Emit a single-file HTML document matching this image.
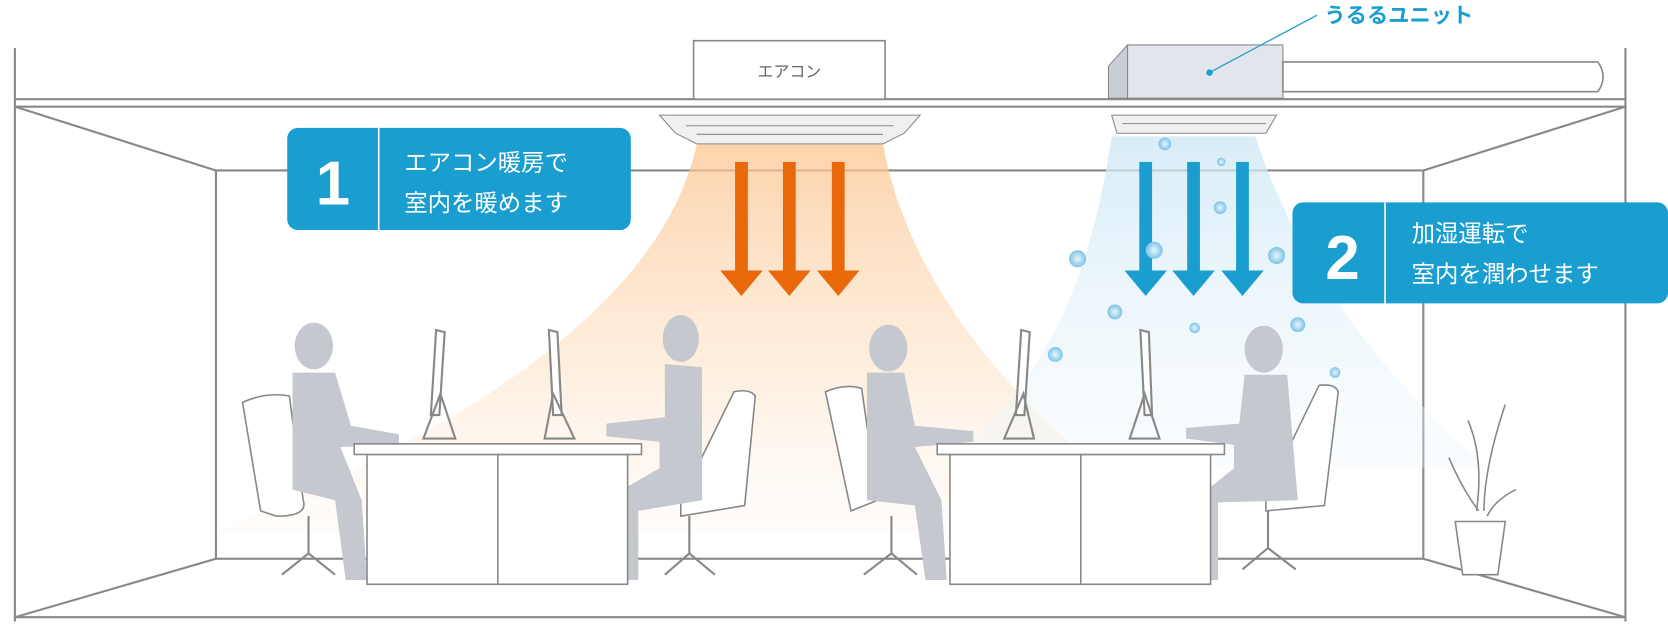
<!DOCTYPE html>
<html><head><meta charset="utf-8"><style>
html,body{margin:0;padding:0;background:#fff;width:1668px;height:626px;overflow:hidden}
svg{display:block}
text{font-family:"Liberation Sans","Noto Sans CJK JP",sans-serif}
</style></head><body>
<svg width="1668" height="626" viewBox="0 0 1568 588" xmlns="http://www.w3.org/2000/svg">
<defs>
<linearGradient id="warm" x1="0" y1="0" x2="0" y2="1">
<stop offset="0" stop-color="#fbc58f" stop-opacity="0.75"/>
<stop offset="0.6" stop-color="#fde0c2" stop-opacity="0.5"/>
<stop offset="1" stop-color="#fff2e6" stop-opacity="0.2"/>
</linearGradient>
<linearGradient id="cool" x1="0" y1="0" x2="0" y2="1">
<stop offset="0" stop-color="#cfe8f5" stop-opacity="0.8"/>
<stop offset="1" stop-color="#eef7fc" stop-opacity="0.3"/>
</linearGradient>
<radialGradient id="drop"><stop offset="0" stop-color="#e9f6fc"/><stop offset="1" stop-color="#7cc3e6"/></radialGradient>
</defs>
<g stroke="#888" stroke-width="2" fill="none">
<line x1="14" y1="45" x2="14" y2="584"/>
<line x1="1528" y1="45" x2="1528" y2="584"/>
<line x1="14" y1="93" x2="1528" y2="93"/>
<line x1="14" y1="100" x2="1528" y2="100"/>
<line x1="14" y1="580" x2="1528" y2="580"/>
<rect x="203" y="160" width="1135" height="365"/>
<line x1="14" y1="100" x2="203" y2="160"/>
<line x1="1528" y1="100" x2="1338" y2="160"/>
<line x1="14" y1="580" x2="203" y2="525"/>
<line x1="1528" y1="580" x2="1338" y2="525"/>
</g>
<path d="M655 135 L830 135 C860 300 1000 420 1110 500 L200 500 C400 420 620 300 655 135Z" fill="url(#warm)"/>
<path d="M1045 128 L1180 128 C1230 280 1330 380 1400 440 L880 440 C960 380 1020 300 1045 128Z" fill="url(#cool)"/>
<rect x="652" y="38" width="180" height="55" fill="#fff" stroke="#888" stroke-width="1.5"/>
<text x="742" y="72" font-size="15" fill="#666" text-anchor="middle">エアコン</text>
<path d="M1042 92 L1042 62 L1060 42 L1060 92Z" fill="#c9ced6" stroke="#888"/>
<rect x="1060" y="42" width="146" height="50" fill="#e2e6ec" stroke="#888"/>
<path d="M1206 58 L1502 58 Q1512 72 1502 86 L1206 86Z" fill="#fff" stroke="#888" stroke-width="1.5"/>
<line x1="1137" y1="68" x2="1238" y2="14" stroke="#1a9ed0" stroke-width="1.2"/>
<circle cx="1137" cy="68" r="3" fill="#1a9ed0"/>
<text x="1245" y="21" font-size="20" font-weight="bold" fill="#1a9ed0">うるるユニット</text>
<path d="M620 108 L865 108 L850 125 L830 135 L655 135 L635 125Z" fill="#eef0f2" stroke="#888"/>
<line x1="645" y1="118" x2="840" y2="118" stroke="#888"/>
<line x1="655" y1="126" x2="830" y2="126" stroke="#888"/>
<path d="M1045 108 L1200 108 L1190 125 L1050 125Z" fill="#eef0f2" stroke="#888"/>
<line x1="1055" y1="116" x2="1190" y2="116" stroke="#888"/>
<g fill="#e8680a">
<rect x="691" y="152" width="12" height="104"/><path d="M677 254 L717 254 L697 278Z"/>
<rect x="736" y="152" width="12" height="104"/><path d="M722 254 L762 254 L742 278Z"/>
<rect x="782" y="152" width="12" height="104"/><path d="M768 254 L808 254 L788 278Z"/>
</g>
<g fill="#1a9ed0">
<rect x="1071" y="152" width="12" height="104"/><path d="M1057 254 L1097 254 L1077 278Z"/>
<rect x="1116" y="152" width="12" height="104"/><path d="M1102 254 L1142 254 L1122 278Z"/>
<rect x="1162" y="152" width="12" height="104"/><path d="M1148 254 L1188 254 L1168 278Z"/>
</g>
<g fill="url(#drop)">
<circle cx="1095" cy="135" r="6"/><circle cx="1148" cy="152" r="4"/><circle cx="1147" cy="195" r="6"/>
<circle cx="1085" cy="235" r="8"/><circle cx="1013" cy="243" r="8"/><circle cx="1200" cy="240" r="8"/>
<circle cx="1048" cy="293" r="7"/><circle cx="1123" cy="308" r="5"/><circle cx="1220" cy="305" r="7"/>
<circle cx="992" cy="333" r="7"/><circle cx="1255" cy="350" r="5"/>
</g>
<rect x="270" y="120" width="323" height="96" rx="10" fill="#1a9ed0"/>
<line x1="356" y1="120" x2="356" y2="216" stroke="#fff" stroke-width="1.5"/>
<text x="313" y="192" font-size="58" font-weight="bold" fill="#fff" text-anchor="middle">1</text>
<text x="380" y="160" font-size="22" fill="#fff">エアコン暖房で</text>
<text x="380" y="198" font-size="22" fill="#fff">室内を暖めます</text>
<rect x="1215" y="190" width="353" height="95" rx="10" fill="#1a9ed0"/>
<line x1="1302" y1="190" x2="1302" y2="285" stroke="#fff" stroke-width="1.5"/>
<text x="1262" y="262" font-size="58" font-weight="bold" fill="#fff" text-anchor="middle">2</text>
<text x="1327" y="227" font-size="22" fill="#fff">加湿運転で</text>
<text x="1327" y="265" font-size="22" fill="#fff">室内を潤わせます</text>
<g fill="#fff" stroke="#888" stroke-width="1.5">
<path d="M228 378 Q250 368 272 372 L285 470 Q290 485 260 485 L245 480 Z"/>
<path d="M690 368 Q705 365 710 372 L700 475 L640 485 L640 470Z"/>
<path d="M776 368 Q795 360 810 365 L825 470 L800 480 Z"/>
<path d="M1240 362 Q1255 360 1258 368 L1245 475 L1190 480 L1190 465Z"/>
</g>
<g stroke="#888" stroke-width="2" fill="none">
<path d="M290 485 L290 520 M265 540 L290 520 L315 540"/>
<path d="M648 485 L648 520 M625 540 L648 520 L672 540"/>
<path d="M838 485 L838 520 M812 540 L838 520 L862 540"/>
<path d="M1192 480 L1192 515 M1168 535 L1192 515 L1218 535"/>
</g>
<g fill="#c5c8cf">
<ellipse cx="295" cy="325" rx="18" ry="22"/><path d="M275 350 L315 350 L330 400 L375 408 L375 418 L320 420 L340 470 L345 545 L325 545 L315 470 L275 460 Z"/>
<ellipse cx="640" cy="318" rx="17" ry="22"/><path d="M625 342 L660 345 L660 470 L600 480 L600 545 L585 545 L585 460 L620 440 L620 415 L570 410 L570 398 L625 392Z"/>
<ellipse cx="835" cy="327" rx="18" ry="22"/><path d="M815 350 L850 350 L860 400 L915 405 L915 415 L860 420 L885 470 L890 545 L870 545 L860 475 L815 470 Z"/>
<ellipse cx="1188" cy="328" rx="18" ry="22"/><path d="M1170 352 L1210 352 L1220 470 L1145 472 L1145 545 L1135 545 L1135 460 L1160 440 L1160 418 L1115 412 L1115 402 L1165 398Z"/>
</g>
<g fill="#fff" stroke="#888" stroke-width="2">
<path d="M410 310 L418 312 L413 390 L405 390Z"/><path d="M414 370 L428 412 L398 412Z" fill="none"/>
<path d="M516 310 L524 312 L528 390 L520 390Z"/><path d="M520 370 L512 412 L540 412Z" fill="none"/>
<path d="M960 310 L968 312 L963 390 L955 390Z"/><path d="M962 370 L972 412 L944 412Z" fill="none"/>
<path d="M1072 310 L1080 312 L1083 390 L1076 390Z"/><path d="M1076 370 L1062 412 L1090 412Z" fill="none"/>
</g>
<g fill="#fff" stroke="#888" stroke-width="1.5">
<rect x="345" y="427" width="245" height="122"/><rect x="333" y="417" width="270" height="10"/>
<line x1="468" y1="427" x2="468" y2="549"/>
<rect x="893" y="427" width="245" height="122"/><rect x="881" y="417" width="270" height="10"/>
<line x1="1016" y1="427" x2="1016" y2="549"/>
</g>
<g stroke="#888" stroke-width="1.5" fill="#fff">
<path d="M1380 395 Q1395 430 1388 480" fill="none"/><path d="M1415 380 Q1395 440 1395 480" fill="none"/>
<path d="M1362 430 Q1375 460 1390 480" fill="none"/><path d="M1425 460 Q1405 470 1398 485" fill="none"/>
<path d="M1368 490 L1415 490 L1408 540 L1375 540Z"/>
</g>
</svg>
</body></html>
